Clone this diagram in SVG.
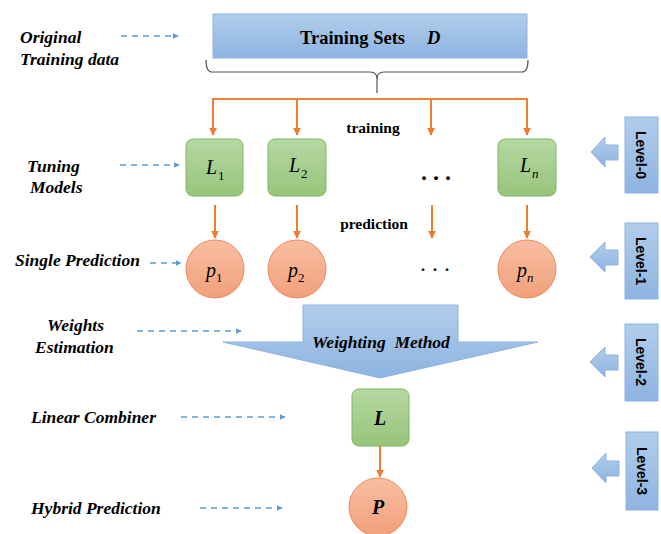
<svg xmlns="http://www.w3.org/2000/svg" width="661" height="534" viewBox="0 0 661 534">
  <defs>
    <linearGradient id="gBlue" x1="0" y1="0" x2="0" y2="1">
      <stop offset="0" stop-color="#b1cdeb"/>
      <stop offset="1" stop-color="#8eb4e1"/>
    </linearGradient>
    <linearGradient id="gGreen" x1="0" y1="0" x2="0" y2="1">
      <stop offset="0" stop-color="#b6d8a3"/>
      <stop offset="1" stop-color="#97c47b"/>
    </linearGradient>
    <linearGradient id="gOrange" x1="0" y1="0" x2="0" y2="1">
      <stop offset="0" stop-color="#f8bea2"/>
      <stop offset="1" stop-color="#f2a07b"/>
    </linearGradient>
    <marker id="ahOrange" viewBox="0 0 10 10" refX="9" refY="5" markerWidth="4" markerHeight="4" orient="auto">
      <path d="M0,0 L10,5 L0,10 z" fill="#ed7d31"/>
    </marker>
    <marker id="ahBlue" viewBox="0 0 10 10" refX="9" refY="5" markerWidth="4" markerHeight="4" orient="auto">
      <path d="M0,0 L10,5 L0,10 z" fill="#5b9bd5"/>
    </marker>
  </defs>
  <style>
    .blue { fill: url(#gBlue); stroke: #8db3e2; stroke-width: 1; }
    .green { fill: url(#gGreen); stroke: #7fb563; stroke-width: 1; }
    .orange { fill: url(#gOrange); stroke: #ee8b5c; stroke-width: 1; }
    .flow { stroke: #ed7d31; stroke-width: 2; fill: none; }
    .dash { stroke: #5b9bd5; stroke-width: 1.5; stroke-dasharray: 6 5; fill: none; marker-end: url(#ahBlue); }
    .lab { font-family: "Liberation Serif", "Times New Roman", serif; font-weight: bold; font-style: italic; font-size: 17.5px; fill: #000; }
    .math { font-family: "Liberation Serif", "Times New Roman", serif; font-style: italic; font-size: 20px; fill: #000; }
    .sub { font-family: "Liberation Serif", "Times New Roman", serif; font-size: 13px; fill: #000; }
    .subi { font-family: "Liberation Serif", "Times New Roman", serif; font-style: italic; font-size: 13px; fill: #000; }
    .bold { font-family: "Liberation Serif", "Times New Roman", serif; font-weight: bold; fill: #000; }
    .lvl { font-family: "Liberation Sans", Arial, sans-serif; font-weight: bold; font-size: 14px; fill: #000; }
    .dots { font-family: "Liberation Serif", "Times New Roman", serif; font-size: 24px; fill: #000; }
  </style>

  <!-- side captions -->
  <g id="captions">
    <text class="lab" x="20" y="43">Original</text>
    <text class="lab" x="20" y="65">Training data</text>
    <text class="lab" x="27" y="172">Tuning</text>
    <text class="lab" x="30" y="193">Models</text>
    <text class="lab" x="15" y="266">Single Prediction</text>
    <text class="lab" x="47" y="331">Weights</text>
    <text class="lab" x="35" y="353">Estimation</text>
    <text class="lab" x="31" y="423">Linear Combiner</text>
    <text class="lab" x="31" y="514">Hybrid Prediction</text>
  </g>

  <!-- training set -->
  <g id="training-set">
    <rect class="blue" x="213" y="14" width="314" height="44"/>
    <text class="bold" x="300" y="44" font-size="18.5">Training Sets</text>
    <text class="bold" x="427" y="44" font-size="18.5" font-style="italic">D</text>
  </g>

  <!-- brace under the training set -->
  <path id="brace" d="M206,60 Q206,72 212,72 L370,72 Q377,72 377,79 L377,93 M377,79 Q377,72 384,72 L522,72 Q528,72 528,60" fill="none" stroke="#555" stroke-width="1.2"/>

  <g id="connectors">
    <!-- split bus -->
    <path class="flow" d="M213,134 L213,99 L527,99 L527,134"/>
    <line class="flow" x1="213" y1="99" x2="213" y2="135" marker-end="url(#ahOrange)"/>
    <line class="flow" x1="297" y1="99" x2="297" y2="135" marker-end="url(#ahOrange)"/>
    <line class="flow" x1="431" y1="99" x2="431" y2="135" marker-end="url(#ahOrange)"/>
    <line class="flow" x1="527" y1="99" x2="527" y2="135" marker-end="url(#ahOrange)"/>
    <!-- prediction arrows -->
    <line class="flow" x1="215" y1="205" x2="215" y2="238" marker-end="url(#ahOrange)"/>
    <line class="flow" x1="297" y1="205" x2="297" y2="238" marker-end="url(#ahOrange)"/>
    <line class="flow" x1="432" y1="205" x2="432" y2="238" marker-end="url(#ahOrange)"/>
    <line class="flow" x1="527" y1="205" x2="527" y2="238" marker-end="url(#ahOrange)"/>
    <line class="flow" x1="380" y1="446" x2="380" y2="477" marker-end="url(#ahOrange)"/>
    <!-- caption pointers -->
    <line class="dash" x1="121" y1="36" x2="178" y2="36"/>
    <line class="dash" x1="120" y1="165" x2="179" y2="165"/>
    <line class="dash" x1="150" y1="263" x2="181" y2="263"/>
    <line class="dash" x1="137" y1="331" x2="241" y2="331"/>
    <line class="dash" x1="181" y1="417" x2="285" y2="417"/>
    <line class="dash" x1="200" y1="508" x2="282" y2="508"/>
  </g>

  <text class="bold" x="373" y="133" font-size="15.5" text-anchor="middle">training</text>
  <text class="bold" x="374" y="229" font-size="15.5" text-anchor="middle">prediction</text>

  <!-- base learners -->
  <g id="L1">
    <rect class="green" x="186" y="139" width="57" height="57" rx="7"/>
    <text class="math" x="206" y="174">L</text><text class="sub" x="218" y="180">1</text>
  </g>
  <g id="L2">
    <rect class="green" x="268" y="139" width="58" height="57" rx="7"/>
    <text class="math" x="289" y="172">L</text><text class="sub" x="301" y="178">2</text>
  </g>
  <g id="Ln">
    <rect class="green" x="498" y="139" width="58" height="57" rx="7"/>
    <text class="math" x="520" y="172">L</text><text class="subi" x="532" y="178">n</text>
  </g>
  <text class="dots" x="436" y="180" text-anchor="middle" font-weight="bold">. . .</text>

  <!-- single predictions -->
  <g id="p1">
    <circle class="orange" cx="215" cy="269" r="29"/>
    <text class="math" x="206" y="277">p</text><text class="sub" x="216" y="282">1</text>
  </g>
  <g id="p2">
    <circle class="orange" cx="297" cy="269" r="29"/>
    <text class="math" x="288" y="277">p</text><text class="sub" x="298" y="282">2</text>
  </g>
  <g id="pn">
    <circle class="orange" cx="527" cy="269" r="29"/>
    <text class="math" x="517" y="277">p</text><text class="subi" x="527" y="282">n</text>
  </g>
  <text class="dots" x="435" y="271" text-anchor="middle">. . .</text>

  <!-- weighting method -->
  <g id="weighting">
    <polygon class="blue" points="303,305 458,305 458,342 538,342 380,378 223,342 303,342"/>
    <text class="lab" x="381" y="348" text-anchor="middle" font-size="18" xml:space="preserve">Weighting  Method</text>
  </g>

  <!-- combiner -->
  <g id="L">
    <rect class="green" x="352" y="389" width="57" height="57" rx="7"/>
    <text class="math" x="380" y="425" text-anchor="middle" font-weight="bold">L</text>
  </g>
  <g id="P">
    <circle class="orange" cx="378" cy="507" r="29"/>
    <text class="math" x="378" y="514" text-anchor="middle" font-weight="bold">P</text>
  </g>

  <!-- level markers -->
  <g id="level-0">
    <path class="blue" d="M591,152 L605,137 L605,145 L618,145 L618,160 L605,160 L605,167 z"/>
    <rect class="blue" x="625" y="117" width="33" height="76"/>
    <text class="lvl" transform="translate(636,155) rotate(90)" text-anchor="middle">Level-0</text>
  </g>
  <g id="level-1">
    <path class="blue" d="M590,257 L605,242 L605,250 L618,250 L618,265 L605,265 L605,272 z"/>
    <rect class="blue" x="625" y="223" width="33" height="76"/>
    <text class="lvl" transform="translate(636,261) rotate(90)" text-anchor="middle">Level-1</text>
  </g>
  <g id="level-2">
    <path class="blue" d="M590,362 L605,347 L605,355 L618,355 L618,370 L605,370 L605,377 z"/>
    <rect class="blue" x="625" y="324" width="33" height="77"/>
    <text class="lvl" transform="translate(636,362) rotate(90)" text-anchor="middle">Level-2</text>
  </g>
  <g id="level-3">
    <path class="blue" d="M592,468 L606,453 L606,461 L619,461 L619,476 L606,476 L606,483 z"/>
    <rect class="blue" x="626" y="432" width="32" height="78"/>
    <text class="lvl" transform="translate(637,471) rotate(90)" text-anchor="middle">Level-3</text>
  </g>
</svg>
